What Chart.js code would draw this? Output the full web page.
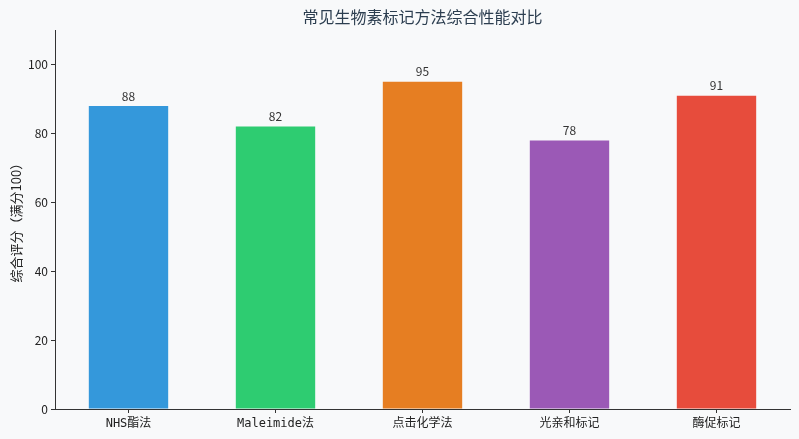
<!DOCTYPE html>
<html><head><meta charset="utf-8">
<script src="https://cdn.jsdelivr.net/npm/chart.js@4"></script>
<style>html,body{margin:0;padding:0;background:#f8f9fa;}#wrap{width:799px;height:439px;}</style>
</head><body><div id="wrap"><canvas id="c" width="799" height="439"></canvas></div>
<script>
const categories = ["NHS酯法", "Maleimide法", "点击化学法", "光亲和标记", "酶促标记"];
const scores = [88, 82, 95, 78, 91];
const barColors = ["#3498db", "#2ecc71", "#e67e22", "#9b59b6", "#e74c3c"];
const yTicks = [0, 20, 40, 60, 80, 100];
const titleText = "常见生物素标记方法综合性能对比";
const yLabel = "综合评分（满分100）";

const CJK = '"Noto Sans CJK SC", "DejaVu Sans", sans-serif';
const MONO = '"DejaVu Sans Mono", "Noto Sans CJK SC", monospace';

const bgPlugin = {
  id: 'bg',
  beforeDraw(chart) {
    const ctx = chart.ctx;
    ctx.save(); ctx.fillStyle = '#f8f9fa';
    ctx.fillRect(0, 0, chart.width, chart.height); ctx.restore();
  }
};
const labelPlugin = {
  id: 'vals',
  afterDatasetsDraw(chart) {
    const ctx = chart.ctx;
    const meta = chart.getDatasetMeta(0);
    ctx.save();
    ctx.font = '12px ' + CJK;
    ctx.fillStyle = '#333333';
    ctx.textAlign = 'center';
    ctx.textBaseline = 'bottom';
    meta.data.forEach((bar, i) => {
      ctx.fillText(String(scores[i]), bar.x, bar.y - 4);
    });
    ctx.restore();
  }
};

new Chart(document.getElementById('c'), {
  type: 'bar',
  data: {
    labels: categories,
    datasets: [{ data: scores, backgroundColor: barColors, borderWidth: 0,
      barPercentage: 0.54, categoryPercentage: 1.0 }]
  },
  options: {
    responsive: false, animation: false,
    layout: { padding: { left: 0, right: 9, top: 0, bottom: 0 } },
    plugins: {
      legend: { display: false }, tooltip: { enabled: false },
      title: { display: true, text: titleText, fullSize: false, color: '#2c3e50',
        font: { family: CJK, size: 16, weight: 'normal', lineHeight: 1.2 },
        padding: { top: 7, bottom: 4 } }
    },
    scales: {
      x: {
        grid: { display: true, drawOnChartArea: false, drawTicks: true, tickLength: 4, color: '#333', offset: false },
        border: { display: true, color: '#333', width: 1 },
        ticks: { color: '#222', font: { family: MONO, size: 12 }, padding: 4, maxRotation: 0 },
        afterFit(s) { s.height = 30; }
      },
      y: {
        min: 0, max: 110,
        afterBuildTicks(axis) { axis.ticks = yTicks.map(v => ({ value: v })); },
        grid: { display: true, drawOnChartArea: false, drawTicks: true, tickLength: 4, color: '#333' },
        border: { display: true, color: '#333', width: 1 },
        ticks: { color: '#222', font: { family: CJK, size: 12 }, padding: 3 },
        title: { display: true, text: yLabel, color: '#222', font: { family: CJK, size: 13 }, padding: { top: 8, bottom: 4 } },
        afterFit(s) { s.width = 55; }
      }
    }
  },
  plugins: [bgPlugin, labelPlugin]
});
</script></body></html>
